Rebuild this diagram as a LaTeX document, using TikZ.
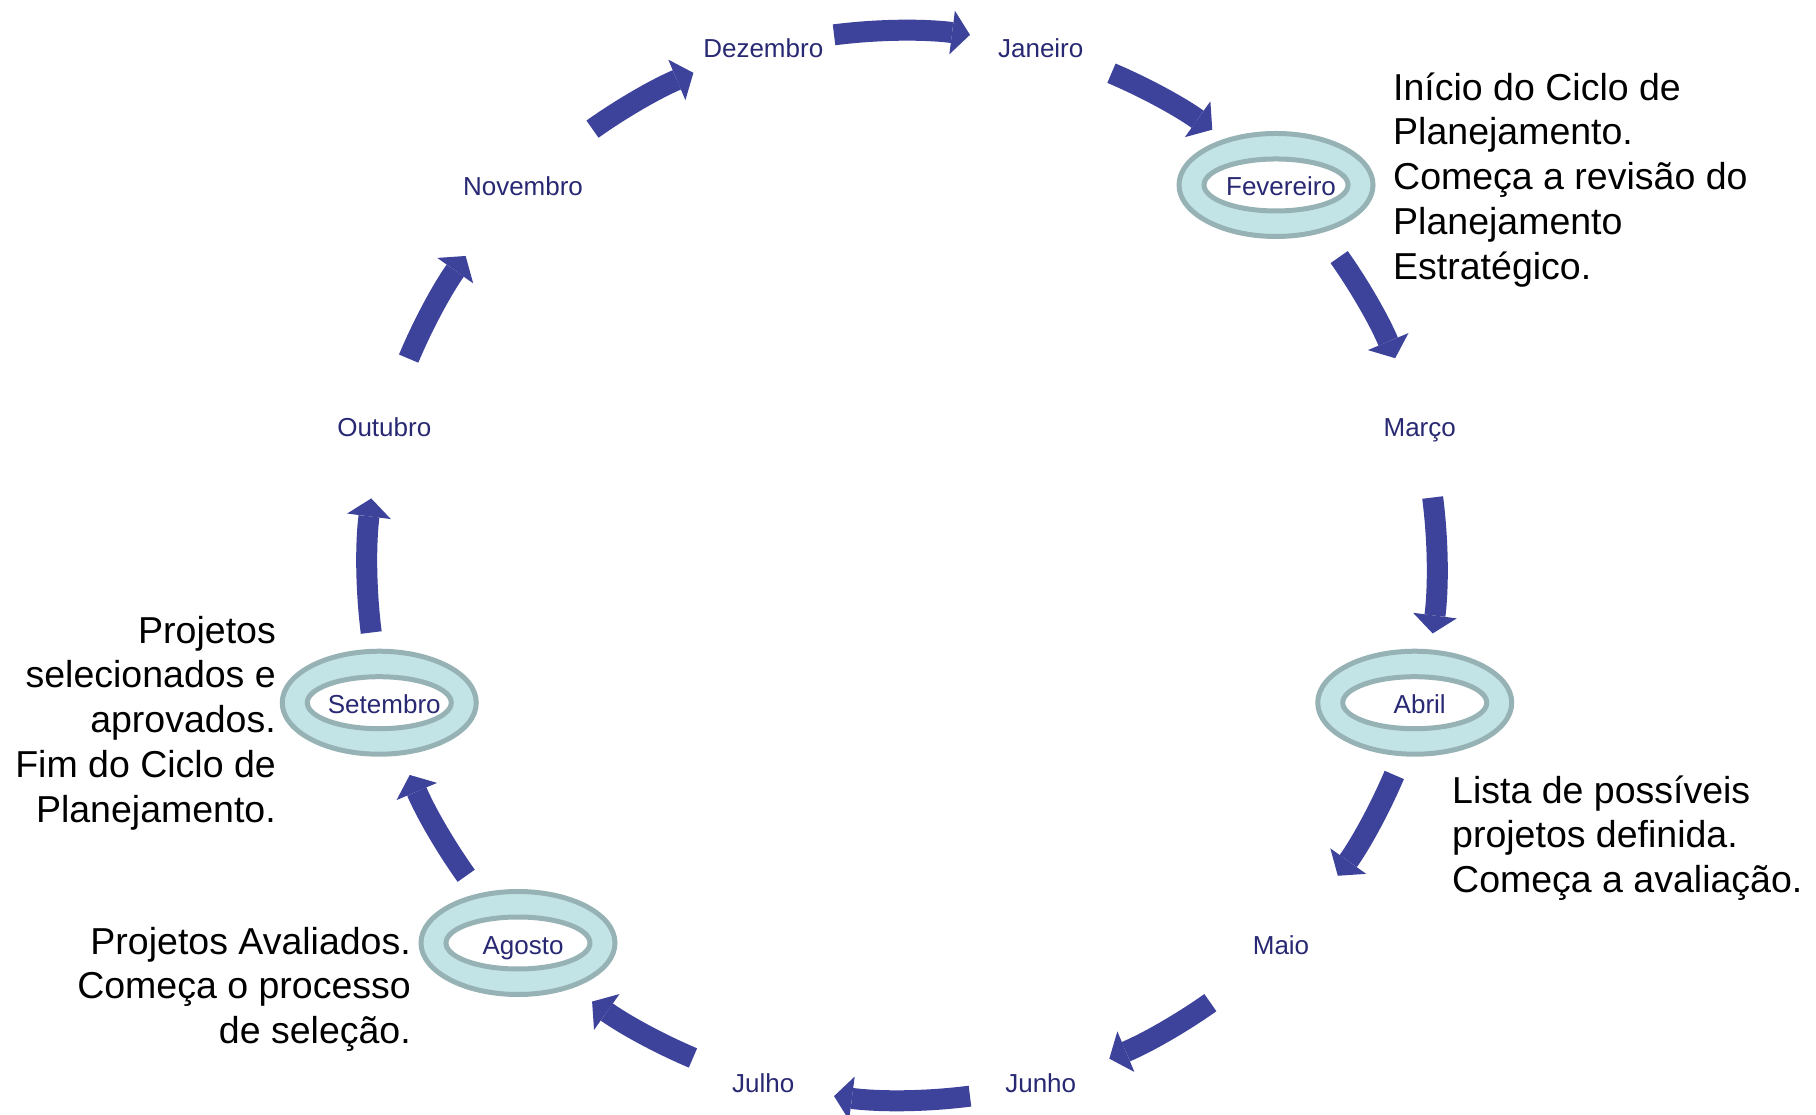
\documentclass[tikz,border=0pt]{standalone}
\usepackage{fontspec}
\setmainfont{Liberation Sans}
\usetikzlibrary{arrows.meta,calc,backgrounds}

\definecolor{arrowblue}{RGB}{61,66,155}
\definecolor{monthtext}{RGB}{40,40,115}
\definecolor{ringfill}{RGB}{194,228,230}
\definecolor{ringline}{RGB}{150,178,180}

\begin{document}
\begin{tikzpicture}[x=1pt,y=1pt,
  month/.style={font=\fontsize{26}{31}\selectfont, text=monthtext,
    inner sep=0pt, text height=19pt, text depth=0pt},
  note/.style={font=\fontsize{37.5}{44.8}\selectfont, text=black, inner sep=0pt},
  cyclearrow/.style={draw=arrowblue, line width=21pt,
    -{Triangle[length=18pt,width=44pt,line width=0pt]}},
  ringouter/.style={draw=ringline, line width=5pt, fill=ringfill},
  ringinner/.style={draw=ringline, line width=5pt, fill=white}]
\useasboundingbox (0,0) rectangle (1816,1115);

% centre of the yearly cycle
\coordinate (c) at (902,549.5);

% month labels around the cycle
\foreach \name/\ang/\txt in {jan/75/Janeiro, feb/45/Fevereiro, mar/15/Março,
    apr/-15/Abril, may/-45/Maio, jun/-75/Junho, jul/-105/Julho,
    aug/-135/Agosto, sep/-165/Setembro, oct/165/Outubro,
    nov/135/Novembro, dec/105/Dezembro}
  \node[month] (\name) at ($(c)+(\ang:536)$) {\txt};

% milestone rings behind the highlighted months
\begin{scope}[on background layer]
  \foreach \m in {feb,apr,aug,sep} {
    \path[ringouter] ($(\m)+(-5,1.5)$) ellipse [x radius=97, y radius=51.5];
    \path[ringinner] ($(\m)+(-5,1.5)$) ellipse [x radius=72, y radius=26];
  }
\end{scope}

% clockwise arrows between consecutive months (centre angle / half span)
\foreach \a/\h in {90/7.3, 60.75/6.2, 29/6.2, 0/7.3, -29.25/6.2, -61/6.2,
    -90/7.3, -119.2/6.2, -150.75/6.2, -180/7.2, 150.95/6.3, 119.15/6.2} {
  \pgfmathsetmacro\s{\a+\h}
  \pgfmathsetmacro\e{\a-\h}
  \draw[cyclearrow] ($(c)+(\s:535)$) arc[start angle=\s, end angle=\e, radius=535];
}

% milestone notes
\node[note, anchor=north west, align=left] (febnote) at (1393,1045)
  {\rule{0pt}{30pt}Início do Ciclo de\\Planejamento.\\Começa a revisão do\\Planejamento\\Estratégico.};
\node[note, anchor=north west, align=left] (aprnote) at (1452,342)
  {\rule{0pt}{30pt}Lista de possíveis\\projetos definida.\\Começa a avaliação.};
\node[note, anchor=north east, align=right] (augnote) at (411,191)
  {\rule{0pt}{30pt}Projetos Avaliados.\\Começa o processo\\de seleção.};
\node[note, anchor=north east, align=right] (sepnote) at (276,502)
  {\rule{0pt}{30pt}Projetos\\selecionados e\\aprovados.\\Fim do Ciclo de\\Planejamento.};
\end{tikzpicture}
\end{document}
